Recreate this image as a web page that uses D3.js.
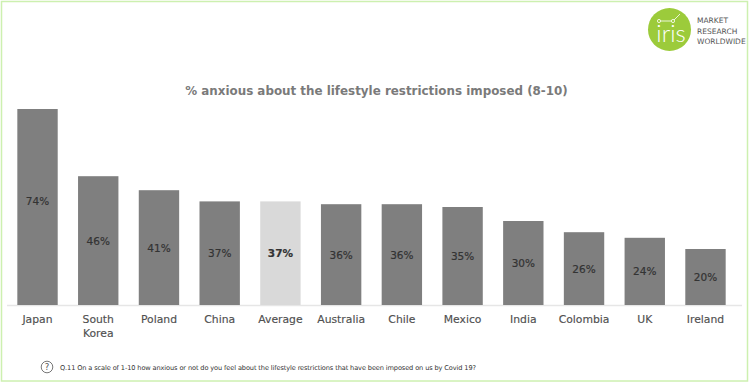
<!DOCTYPE html>
<html><head><meta charset="utf-8">
<script src="https://cdn.jsdelivr.net/npm/d3@7"></script>
<style>html,body{margin:0;padding:0;background:#fff}svg{display:block}text{font-family:"DejaVu Sans",sans-serif}</style>
</head><body><div id="c"></div>
<script>
const categories=[["Japan"],["South","Korea"],["Poland"],["China"],["Average"],["Australia"],["Chile"],["Mexico"],["India"],["Colombia"],["UK"],["Ireland"]];
const values=[74,46,41,37,37,36,36,35,30,26,24,20];
const highlighted="Average";
const chartTitle="% anxious about the lifestyle restrictions imposed (8-10)";
const footnote="Q.11 On a scale of 1-10 how anxious or not do you feel about the lifestyle restrictions that have been imposed on us by Covid 19?";
const logoLines=["MARKET","RESEARCH","WORLDWIDE"];

const W=750,H=385;
const svg=d3.select("#c").append("svg").attr("width",W).attr("height",H);
svg.append("rect").attr("x",1.5).attr("y",1.5).attr("width",746).attr("height",379.5).attr("fill","#fff").attr("stroke","#cdf0b0").attr("stroke-width",1.5);

const names=categories.map(c=>c.join(" "));
const x=d3.scaleBand().domain(names).range([7,736]).paddingInner(0.335).paddingOuter(0.17);
const y=d3.scaleLinear().domain([0,70]).range([305,109]);
const yBar=y.copy().clamp(true);

svg.append("text").attr("x",376.5).attr("y",94.5).attr("text-anchor","middle").attr("font-size",11.9).attr("font-weight","bold").attr("fill","#7a7a7a").text(chartTitle);

svg.append("line").attr("x1",7).attr("x2",742).attr("y1",305.5).attr("y2",305.5).attr("stroke","#e6e6e6").attr("stroke-width",1.5);

svg.selectAll("rect.bar").data(values).join("rect").attr("class","bar")
 .attr("x",(d,i)=>x(names[i])).attr("width",x.bandwidth())
 .attr("y",d=>yBar(d)).attr("height",d=>yBar(0)-yBar(d))
 .attr("fill",(d,i)=>names[i]===highlighted?"#d9d9d9":"#7f7f7f");

svg.selectAll("text.val").data(values).join("text").attr("class","val")
 .attr("x",(d,i)=>x(names[i])+x.bandwidth()/2)
 .attr("y",d=>(y(d)+y(0))/2+4)
 .attr("text-anchor","middle").attr("font-size",10.5)
 .attr("font-weight",(d,i)=>names[i]===highlighted?"bold":"normal")
 .attr("fill","#333").attr("stroke","#333").attr("stroke-width",.2).text(d=>d+"%");

const cat=svg.selectAll("text.cat").data(categories).join("text").attr("class","cat")
 .attr("text-anchor","middle").attr("font-size",10.8).attr("fill","#505050").attr("stroke","#505050").attr("stroke-width",.15);
cat.each(function(c,i){
 const t=d3.select(this);
 c.forEach((line,j)=>t.append("tspan").attr("x",x(names[i])+x.bandwidth()/2).attr("y",323+j*13.5).text(line));
});

// footnote
svg.append("circle").attr("cx",47).attr("cy",367).attr("r",5.8).attr("fill","none").attr("stroke","#555").attr("stroke-width",.8);
svg.append("text").attr("x",47).attr("y",370).attr("text-anchor","middle").attr("font-size",8.5).attr("fill","#555").text("?");
svg.append("text").attr("x",60).attr("y",370).attr("font-size",6.6).attr("fill","#333").attr("textLength",416).text(footnote);

// logo
const logo=svg.append("g");
logo.append("circle").attr("cx",669.5).attr("cy",29.5).attr("r",21.5).attr("fill","#9ccb3b");
logo.append("text").attr("x",671).attr("y",42).attr("text-anchor","middle").attr("font-size",24).attr("fill","#fff").attr("style","font-family:Lato;font-weight:300").text("iris");
logo.append("path").attr("d","M659 21H673L680 14").attr("fill","none").attr("stroke","#fff").attr("stroke-width",.8);
[[659,21],[673,21]].forEach(p=>logo.append("circle").attr("cx",p[0]).attr("cy",p[1]).attr("r",1.6).attr("fill","#9ccb3b").attr("stroke","#fff").attr("stroke-width",.8));
logo.selectAll("text.l").data(logoLines).join("text").attr("class","l").attr("x",697).attr("y",(d,i)=>23+i*10.5).attr("font-size",7.5).attr("fill","#555").text(d=>d);
</script></body></html>
